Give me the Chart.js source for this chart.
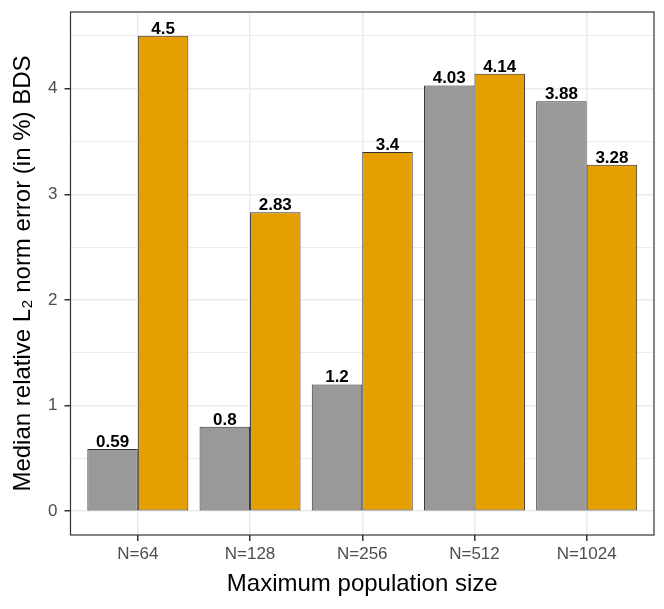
<!DOCTYPE html>
<html>
<head>
<meta charset="utf-8">
<script src="https://cdn.jsdelivr.net/npm/chart.js@4/dist/chart.umd.min.js"></script>
<style>
  body { margin: 0; background: #fff; }
  #wrap { width: 664px; height: 609px; }
</style>
</head>
<body>
<div id="wrap"><canvas id="myBarChart" width="664" height="609"></canvas></div>
<script>
// -------------DATA-----------
const categories = ['N=64', 'N=128', 'N=256', 'N=512', 'N=1024']
const grayValues = [0.59, 0.8, 1.2, 4.03, 3.88]
const orangeValues = [4.5, 2.83, 3.4, 4.14, 3.28]
const yMajorTicks = [0, 1, 2, 3, 4]
const yMinorTicks = [0.5, 1.5, 2.5, 3.5, 4.5]

const FONT = "'Liberation Sans', Arial, Helvetica, sans-serif"

function toPoints(values) {
    return values.map((v, i) => ({ x: i + 1, y: v }))
}

// border round the panel + value labels above bars
const panelPlugin = {
    id: 'panel',
    afterDatasetsDraw(chart) {
        const ctx = chart.ctx
        ctx.save()
        ctx.font = 'bold 17px ' + FONT
        ctx.fillStyle = '#000'
        ctx.textAlign = 'center'
        ctx.textBaseline = 'alphabetic'
        chart.data.datasets.forEach((ds, d) => {
            const meta = chart.getDatasetMeta(d)
            meta.data.forEach((bar, i) => {
                ctx.fillText(String(ds.data[i].y), bar.x, bar.y - 2)
            })
        })
        const a = chart.chartArea
        ctx.strokeStyle = '#333333'
        ctx.lineWidth = 1.2
        ctx.strokeRect(a.left, a.top, a.right - a.left, a.bottom - a.top)
        ctx.restore()
    }
}

function createBarChart() {
    const ctx = document.getElementById('myBarChart').getContext('2d')
    new Chart(ctx, {
        type: 'bar',
        data: {
            datasets: [{
                label: 'gray',
                data: toPoints(grayValues),
                backgroundColor: '#999999',
                borderColor: '#333333',
                borderWidth: 1,
                borderSkipped: false,
                categoryPercentage: 0.9,
                barPercentage: 1.0
            }, {
                label: 'orange',
                data: toPoints(orangeValues),
                backgroundColor: '#E69F00',
                borderColor: '#333333',
                borderWidth: 1,
                borderSkipped: false,
                categoryPercentage: 0.9,
                barPercentage: 1.0
            }]
        },
        options: {
            responsive: false,
            animation: false,
            layout: { padding: { top: 12, right: 10, left: 0, bottom: 0 } },
            plugins: {
                legend: { display: false },
                tooltip: { enabled: false }
            },
            scales: {
                x: {
                    type: 'linear',
                    min: 0.4,
                    max: 5.6,
                    offset: false,
                    afterBuildTicks: (scale) => {
                        scale.ticks = categories.map((c, i) => ({ value: i + 1 }))
                    },
                    afterFit: (scale) => {
                        scale.height = 74
                        scale.paddingLeft = 0
                        scale.paddingRight = 0
                    },
                    ticks: {
                        callback: (v) => categories[v - 1],
                        color: '#4d4d4d',
                        font: { family: FONT, size: 17 },
                        padding: 3,
                        maxRotation: 0,
                        autoSkip: false
                    },
                    grid: {
                        offset: false,
                        color: '#ebebeb',
                        lineWidth: 1.5,
                        tickColor: '#333333',
                        tickLength: 6
                    },
                    border: { display: false },
                    title: {
                        display: true,
                        text: 'Maximum population size',
                        color: '#000',
                        font: { family: FONT, size: 24 },
                        padding: { top: 0, bottom: 10 }
                    }
                },
                y: {
                    min: -0.225,
                    max: 4.725,
                    afterBuildTicks: (scale) => {
                        scale.ticks = yMajorTicks.concat(yMinorTicks)
                            .sort((a, b) => a - b)
                            .map(v => ({ value: v }))
                    },
                    afterFit: (scale) => {
                        scale.width = 70.5
                        scale.paddingTop = 0
                        scale.paddingBottom = 0
                    },
                    ticks: {
                        callback: (v) => Number.isInteger(v) ? String(v) : '',
                        color: '#4d4d4d',
                        font: { family: FONT, size: 17 },
                        padding: 7
                    },
                    grid: {
                        color: '#ebebeb',
                        lineWidth: (c) => Number.isInteger(c.tick && c.tick.value) ? 1.5 : 0.9,
                        tickColor: (c) => Number.isInteger(c.tick && c.tick.value) ? '#333333' : 'rgba(0,0,0,0)',
                        tickLength: 6
                    },
                    border: { display: false },
                    title: {
                        display: true,
                        text: 'Median relative L\u2082 norm error (in %) BDS',
                        color: '#000',
                        font: { family: FONT, size: 24 },
                        padding: { top: 9, bottom: 0 }
                    }
                }
            }
        },
        plugins: [panelPlugin]
    })
}

document.addEventListener('DOMContentLoaded', createBarChart)
</script>
</body>
</html>
